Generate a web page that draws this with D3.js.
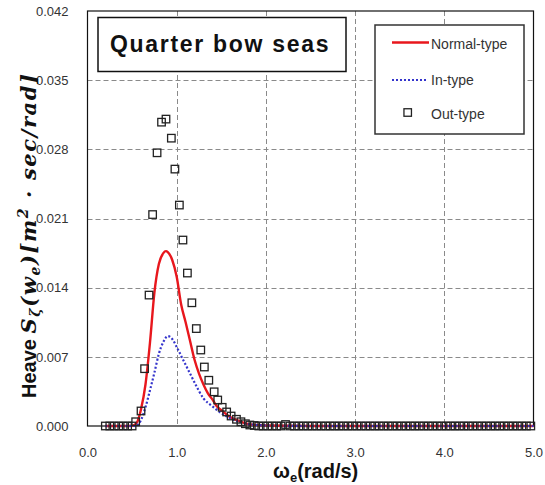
<!DOCTYPE html>
<html>
<head>
<meta charset="utf-8">
<script src="https://cdn.jsdelivr.net/npm/d3@7/dist/d3.min.js"></script>
<style>
  html, body { margin: 0; padding: 0; background: #fff; }
  svg { display: block; }
</style>
</head>
<body>
<svg id="chart" width="545" height="485"></svg>
<script>
// Heave response spectrum, quarter bow seas

// Normal-type hull (solid red)
const normalX = [0.20, 0.30, 0.40, 0.50, 0.55, 0.60, 0.65, 0.70, 0.75, 0.80, 0.85, 0.88, 0.90, 0.95,
  1.00, 1.05, 1.10, 1.15, 1.20, 1.25, 1.30, 1.35, 1.40, 1.45, 1.50, 1.60, 1.70, 1.80, 1.90, 2.00,
  2.50, 3.00, 3.50, 4.00, 4.50, 5.00];
const normalY = [0, 0, 0, 0.00002, 0.0003, 0.0017, 0.0042, 0.0084, 0.0135, 0.0164, 0.0175, 0.0177, 0.0176, 0.0168,
  0.0151, 0.0123, 0.0105, 0.0086, 0.0067, 0.0053, 0.0042, 0.0033, 0.0027, 0.0020, 0.0016, 0.0009, 0.0005, 0.0002, 0.0001, 0.00005,
  0, 0, 0, 0, 0, 0];

// In-type hull (dotted blue)
const inX = [0.20, 0.30, 0.40, 0.50, 0.55, 0.60, 0.65, 0.70, 0.75, 0.80, 0.85, 0.90, 0.95,
  1.00, 1.05, 1.10, 1.15, 1.20, 1.30, 1.40, 1.50, 1.60, 1.70, 1.80, 1.90, 2.00,
  2.50, 3.00, 3.50, 4.00, 4.50, 5.00];
const inY = [0, 0, 0, 0, 0.00003, 0.0006, 0.0019, 0.0036, 0.0054, 0.0073, 0.0085, 0.0091, 0.0088,
  0.0080, 0.0071, 0.0062, 0.0053, 0.0044, 0.0028, 0.0020, 0.0013, 0.0008, 0.0004, 0.0002, 0.0001, 0.00005,
  0, 0, 0, 0, 0, 0];

// Out-type hull (open squares)
const outX = [0.20, 0.25, 0.30, 0.35, 0.40, 0.45, 0.50,
  0.54, 0.60, 0.64, 0.69, 0.73, 0.78, 0.83, 0.88, 0.94, 0.98, 1.03, 1.07, 1.12, 1.17, 1.22, 1.27,
  1.31, 1.36, 1.42, 1.46, 1.51, 1.56, 1.61, 1.67, 1.72, 1.77,
  1.82, 1.87, 1.92, 1.97, 2.02, 2.07, 2.12, 2.17, 2.22, 2.27, 2.32, 2.37, 2.42, 2.47, 2.52, 2.57,
  2.62, 2.67, 2.72, 2.77, 2.82, 2.87, 2.92, 2.97, 3.02, 3.07, 3.12, 3.17, 3.22, 3.27, 3.32, 3.37,
  3.42, 3.47, 3.52, 3.57, 3.62, 3.67, 3.72, 3.77, 3.82, 3.87, 3.92, 3.97, 4.02, 4.07, 4.12, 4.17,
  4.22, 4.27, 4.32, 4.37, 4.42, 4.47, 4.52, 4.57, 4.62, 4.67, 4.72, 4.77, 4.82, 4.87, 4.92, 4.97];
const outY = [0, 0, 0, 0, 0, 0, 0,
  0.00043, 0.00152, 0.0058, 0.01325, 0.0214, 0.02765, 0.03075, 0.03106, 0.02913, 0.0260, 0.02236, 0.01882, 0.01548, 0.01247, 0.00986, 0.00769,
  0.00597, 0.00463, 0.00346, 0.00263, 0.00189, 0.00142, 0.00101, 0.00068, 0.00043, 0.00023,
  0.0001, 0.00005, 0, 0, 0, 0, 0, 0, 0.00015, 0, 0, 0, 0, 0, 0, 0,
  0, 0, 0, 0, 0, 0, 0, 0, 0, 0, 0, 0, 0, 0, 0, 0,
  0, 0, 0, 0, 0, 0, 0, 0, 0, 0, 0, 0, 0, 0, 0, 0,
  0, 0, 0, 0, 0, 0, 0, 0, 0, 0, 0, 0, 0, 0, 0, 0];

const xTicks = [0, 1, 2, 3, 4, 5];
const yTicks = [0, 0.007, 0.014, 0.021, 0.028, 0.035, 0.042];

const titleText = "Quarter bow seas";
const legendNames = ["Normal-type", "In-type", "Out-type"];

const svg = d3.select("#chart");
const margin = { left: 87.5, right: 533.5, top: 11, bottom: 426 };

const x = d3.scaleLinear().domain([0, 5]).range([margin.left, margin.right]);
const y = d3.scaleLinear().domain([0, 0.042]).range([margin.bottom, margin.top]);

const sansFont = "'Liberation Sans', Arial, sans-serif";

// grid
const grid = svg.append("g").attr("stroke", "#8a8a8a").attr("stroke-width", 1)
  .attr("stroke-dasharray", "5,3").attr("fill", "none");
grid.selectAll("line.h").data(yTicks.slice(1, -1)).join("line")
  .attr("x1", margin.left).attr("x2", margin.right)
  .attr("y1", d => Math.round(y(d)) + 0.5).attr("y2", d => Math.round(y(d)) + 0.5);
grid.selectAll("line.v").data(xTicks.slice(1, -1)).join("line")
  .attr("y1", margin.top).attr("y2", margin.bottom)
  .attr("x1", d => Math.round(x(d)) + 0.5).attr("x2", d => Math.round(x(d)) + 0.5);

// axes (labels only, no outer tick marks)
const yAxis = svg.append("g").attr("transform", `translate(${margin.left},0)`)
  .call(d3.axisLeft(y).tickValues(yTicks).tickFormat(d3.format(".3f")).tickSize(0).tickPadding(19));
const xAxis = svg.append("g").attr("transform", `translate(0,${margin.bottom})`)
  .call(d3.axisBottom(x).tickValues(xTicks).tickFormat(d3.format(".1f")).tickSize(0).tickPadding(22));
[yAxis, xAxis].forEach(a => {
  a.select(".domain").remove();
  a.selectAll("text").attr("font-family", sansFont).attr("font-size", 13).attr("fill", "#333");
});

// frame
svg.append("rect")
  .attr("x", margin.left).attr("y", margin.top)
  .attr("width", margin.right - margin.left).attr("height", margin.bottom - margin.top)
  .attr("fill", "none").attr("stroke", "#111").attr("stroke-width", 1.2);

// series
const normalData = normalX.map((v, i) => [v, normalY[i]]);
const inData = inX.map((v, i) => [v, inY[i]]);
const outData = outX.map((v, i) => [v, outY[i]]);

const line = d3.line().x(d => x(d[0])).y(d => y(d[1])).curve(d3.curveMonotoneX);

svg.append("path").datum(normalData).attr("d", line)
  .attr("fill", "none").attr("stroke", "#e8171d").attr("stroke-width", 2.4);
svg.append("path").datum(inData).attr("d", line)
  .attr("fill", "none").attr("stroke", "#3434cc").attr("stroke-width", 2.2)
  .attr("stroke-dasharray", "2,2");

const sq = 7.5;
svg.append("g").selectAll("rect").data(outData).join("rect")
  .attr("x", d => x(d[0]) - sq / 2).attr("y", d => y(d[1]) - sq / 2)
  .attr("width", sq).attr("height", sq)
  .attr("fill", "none").attr("stroke", "#222").attr("stroke-width", 1.3);

// title box
const tb = svg.append("g");
tb.append("rect").attr("x", 98).attr("y", 17.5).attr("width", 248).attr("height", 54)
  .attr("fill", "#fff").attr("stroke", "#111").attr("stroke-width", 1.5);
tb.append("text").attr("x", 110).attr("y", 51.5)
  .attr("font-family", sansFont).attr("font-weight", "bold").attr("font-size", 23)
  .attr("letter-spacing", 1.7).attr("fill", "#111").text(titleText);

// legend
const lg = svg.append("g");
lg.append("rect").attr("x", 375).attr("y", 25).attr("width", 149).attr("height", 109)
  .attr("fill", "#fff").attr("stroke", "#333").attr("stroke-width", 1.5);
lg.append("line").attr("x1", 392).attr("x2", 429).attr("y1", 42.5).attr("y2", 42.5)
  .attr("stroke", "#e8171d").attr("stroke-width", 2.4);
lg.append("line").attr("x1", 392).attr("x2", 427).attr("y1", 80).attr("y2", 80)
  .attr("stroke", "#3434cc").attr("stroke-width", 2.2).attr("stroke-dasharray", "2,2");
lg.append("rect").attr("x", 407.7 - sq / 2).attr("y", 112.5 - sq / 2).attr("width", sq).attr("height", sq)
  .attr("fill", "none").attr("stroke", "#222").attr("stroke-width", 1.3);
const legendY = [48.5, 85, 118.5];
lg.selectAll("text.lab").data(legendNames).join("text")
  .attr("x", 431).attr("y", (d, i) => legendY[i])
  .attr("font-family", sansFont).attr("font-size", 14).attr("fill", "#333").text(d => d);

// x axis title: ωe(rad/s)
const xt = svg.append("text").attr("x", 273).attr("y", 478)
  .attr("font-family", sansFont).attr("font-weight", "bold").attr("font-size", 20).attr("fill", "#111");
xt.append("tspan").text("ω");
xt.append("tspan").attr("font-size", 13).attr("dy", 4).text("e");
xt.append("tspan").attr("dy", -4).text("(rad/s)");

// y axis title: Heave Sζ(we)[m²·sec/rad]
const mathFont = "'DejaVu Serif', 'Liberation Serif', serif";
const yt = svg.append("text").attr("transform", "translate(36,398) rotate(-90)")
  .attr("font-weight", "bold").attr("font-size", 20).attr("fill", "#111");
yt.append("tspan").attr("font-family", sansFont).text("Heave ");
const m = (t, opt = {}) => {
  const s = yt.append("tspan").attr("font-family", mathFont).attr("font-style", "italic")
    .attr("font-size", opt.size || 21).attr("letter-spacing", 1.6).text(t);
  if (opt.dy) s.attr("dy", opt.dy);
  return s;
};
m("S");
m("ζ", { size: 14, dy: 4 });
m("(", { dy: -4 });
m("w");
m("e", { size: 14, dy: 4 });
m(")[m", { dy: -4 });
m("2", { size: 14, dy: -8 });
m(" · sec/rad]", { dy: 8 });
</script>
</body>
</html>
